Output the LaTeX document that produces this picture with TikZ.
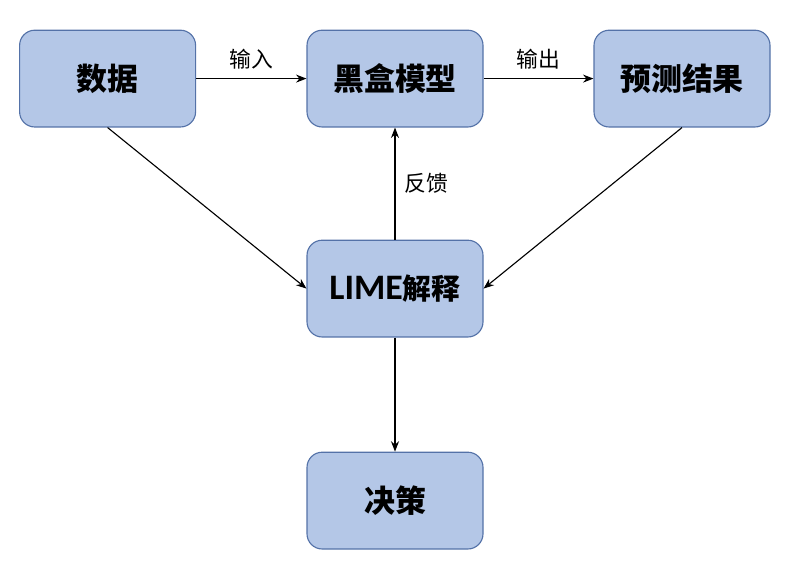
\documentclass[tikz,border=0pt]{standalone}
\usepackage{fontspec}
\setmainfont{Carlito}
\newfontfamily\cjk{Noto Sans CJK SC}
\usetikzlibrary{positioning,arrows.meta}
\definecolor{BoxFill}{RGB}{180,199,231}
\definecolor{BoxLine}{RGB}{84,114,168}

\tikzset{
  stage/.style={rectangle,rounded corners=0.38cm,minimum width=4.4cm,minimum height=2.42cm,
    fill=BoxFill,draw=BoxLine,line width=0.8pt,font=\fontsize{22}{26}\selectfont\bfseries\cjk},
  flow/.style={line width=0.8pt,-{Stealth[length=2.6mm,width=2mm]}},
  tag/.style={font=\fontsize{15.5}{18}\selectfont\cjk}
}

\begin{document}
\begin{tikzpicture}
\useasboundingbox (0,0) rectangle (19.725,14.175);
\node[stage] (data) at (2.69,12.21) {数据};
\node[stage] (model) at (9.875,12.21) {黑盒模型};
\node[stage] (pred) at (17.05,12.21) {预测结果};
\node[stage] (lime) at (9.875,6.96) {{\fontspec{Carlito}\fontsize{25.5}{28}\selectfont\bfseries LIME}{\fontsize{20.5}{26}\selectfont 解释}};
\node[stage] (decide) at (9.875,1.66) {决策};

\draw[flow] (data) -- node[tag,above,yshift=1mm]{输入} (model);
\draw[flow] (model) -- node[tag,above,yshift=1mm]{输出} (pred);
\draw[flow] (lime) -- node[tag,right,xshift=1mm]{反馈} (model);
\draw[flow] (data.south) -- (lime.west);
\draw[flow] (pred.south) -- (lime.east);
\draw[flow] (lime) -- (decide);
\end{tikzpicture}
\end{document}
